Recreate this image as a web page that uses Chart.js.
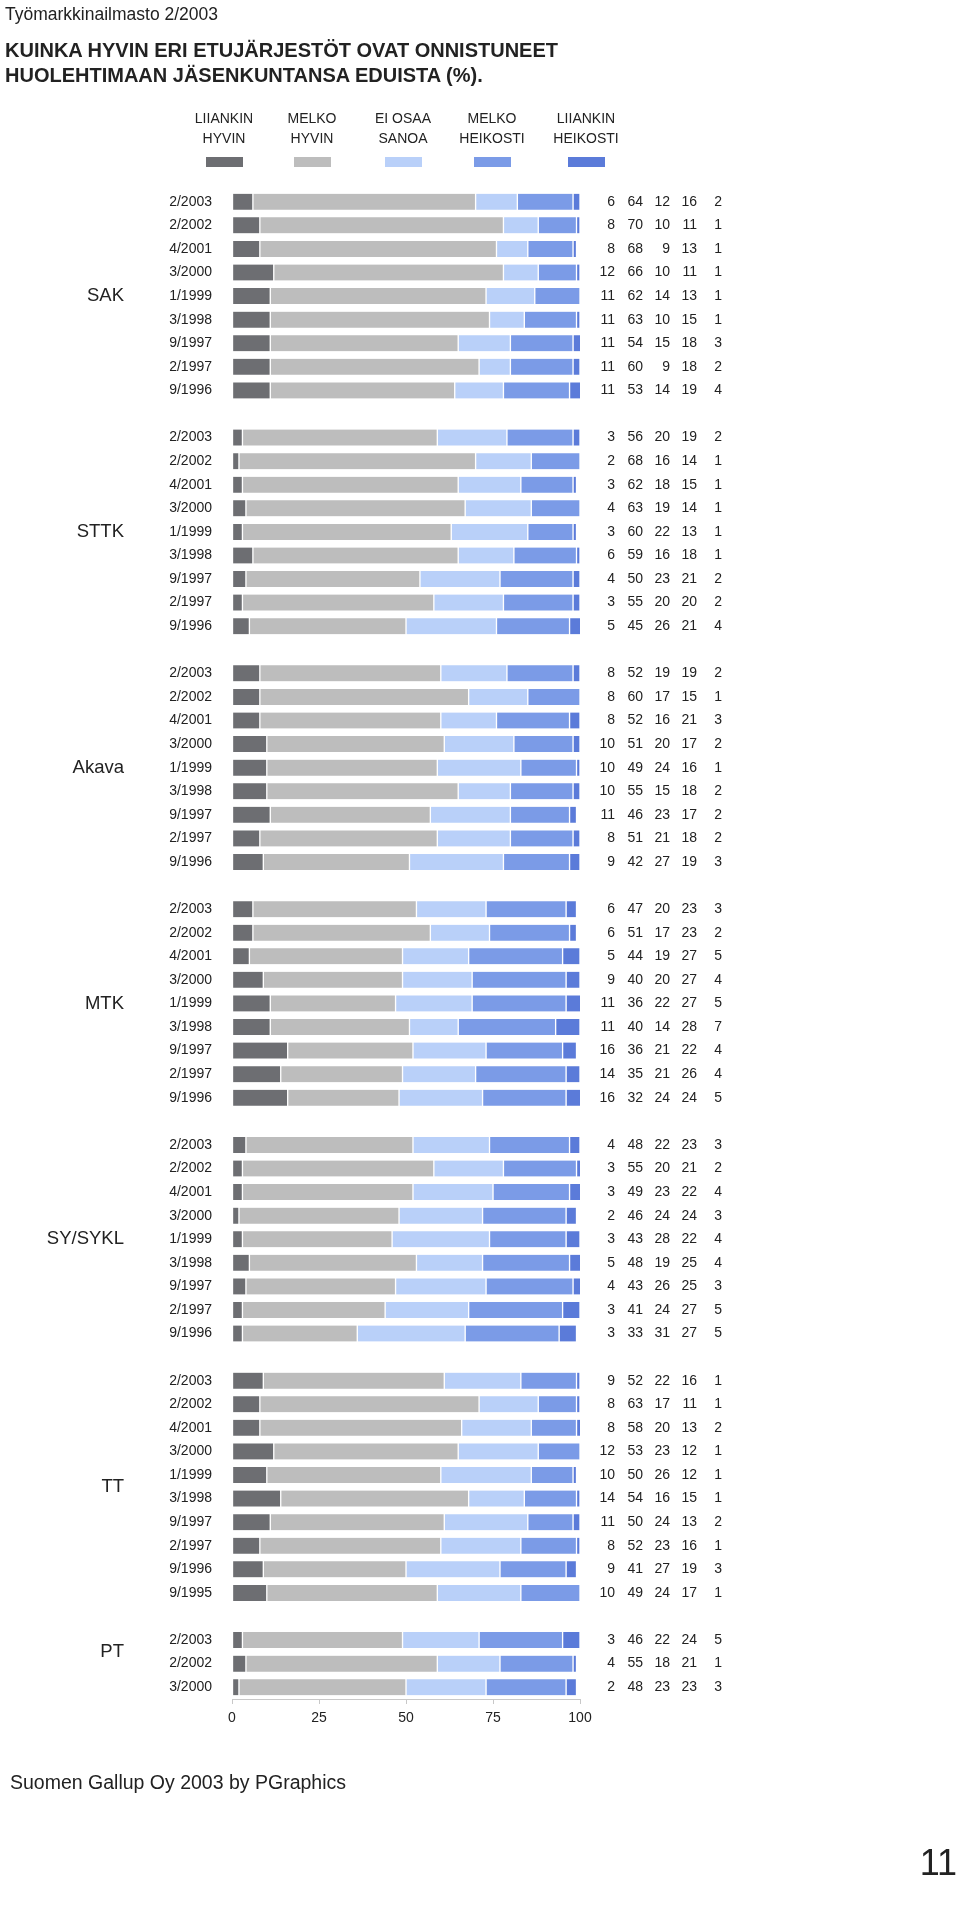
<!DOCTYPE html>
<html>
<head>
<meta charset="utf-8">
<title>Työmarkkinailmasto 2/2003</title>
<script src="https://cdn.jsdelivr.net/npm/chart.js@4.4.1/dist/chart.umd.min.js"></script>
<style>
  html, body { margin: 0; padding: 0; background: #fff; }
  body {
    width: 960px; height: 1909px; position: relative; overflow: hidden;
    font-family: 'Liberation Sans', Arial, sans-serif; color: #222;
  }
  #chart { position: absolute; left: 0; top: 0; }
  .txt { position: absolute; white-space: nowrap; line-height: 1; }
  .leg { position: absolute; width: 110px; text-align: center; font-size: 14px; line-height: 20px; }
  .sw { position: absolute; width: 37px; height: 10px; }
</style>
</head>
<body>
<canvas id="chart" width="960" height="1909"></canvas>
<div class="txt" style="left:5px; top:6px; font-size:17.5px;">Työmarkkinailmasto 2/2003</div>
<div class="txt" style="left:5px; top:38px; font-size:20px; font-weight:bold; line-height:25px;">KUINKA HYVIN ERI ETUJÄRJESTÖT OVAT ONNISTUNEET<br>HUOLEHTIMAAN JÄSENKUNTANSA EDUISTA (%).</div>
<div id="legend"></div>
<div class="txt" style="left:10px; top:1773px; font-size:19.5px;">Suomen Gallup Oy 2003 by PGraphics</div>
<div class="txt" style="right:3px; top:1845px; font-size:36px;">11</div>
<script>
// organisations and survey dates
const groupNames = ['SAK', 'STTK', 'Akava', 'MTK', 'SY/SYKL', 'TT', 'PT'];
const dates9 = ['2/2003', '2/2002', '4/2001', '3/2000', '1/1999', '3/1998', '9/1997', '2/1997', '9/1996'];
const groupDates = [
  dates9, dates9, dates9, dates9, dates9,
  ['2/2003', '2/2002', '4/2001', '3/2000', '1/1999', '3/1998', '9/1997', '2/1997', '9/1996', '9/1995'],
  ['2/2003', '2/2002', '3/2000']
];

// answers (%), one inner array per organisation
const liiankinHyvin = [
  [6, 8, 8, 12, 11, 11, 11, 11, 11],
  [3, 2, 3, 4, 3, 6, 4, 3, 5],
  [8, 8, 8, 10, 10, 10, 11, 8, 9],
  [6, 6, 5, 9, 11, 11, 16, 14, 16],
  [4, 3, 3, 2, 3, 5, 4, 3, 3],
  [9, 8, 8, 12, 10, 14, 11, 8, 9, 10],
  [3, 4, 2]
];
const melkoHyvin = [
  [64, 70, 68, 66, 62, 63, 54, 60, 53],
  [56, 68, 62, 63, 60, 59, 50, 55, 45],
  [52, 60, 52, 51, 49, 55, 46, 51, 42],
  [47, 51, 44, 40, 36, 40, 36, 35, 32],
  [48, 55, 49, 46, 43, 48, 43, 41, 33],
  [52, 63, 58, 53, 50, 54, 50, 52, 41, 49],
  [46, 55, 48]
];
const eiOsaaSanoa = [
  [12, 10, 9, 10, 14, 10, 15, 9, 14],
  [20, 16, 18, 19, 22, 16, 23, 20, 26],
  [19, 17, 16, 20, 24, 15, 23, 21, 27],
  [20, 17, 19, 20, 22, 14, 21, 21, 24],
  [22, 20, 23, 24, 28, 19, 26, 24, 31],
  [22, 17, 20, 23, 26, 16, 24, 23, 27, 24],
  [22, 18, 23]
];
const melkoHeikosti = [
  [16, 11, 13, 11, 13, 15, 18, 18, 19],
  [19, 14, 15, 14, 13, 18, 21, 20, 21],
  [19, 15, 21, 17, 16, 18, 17, 18, 19],
  [23, 23, 27, 27, 27, 28, 22, 26, 24],
  [23, 21, 22, 24, 22, 25, 25, 27, 27],
  [16, 11, 13, 12, 12, 15, 13, 16, 19, 17],
  [24, 21, 23]
];
const liiankinHeikosti = [
  [2, 1, 1, 1, 1, 1, 3, 2, 4],
  [2, 1, 1, 1, 1, 1, 2, 2, 4],
  [2, 1, 3, 2, 1, 2, 2, 2, 3],
  [3, 2, 5, 4, 5, 7, 4, 4, 5],
  [3, 2, 4, 3, 4, 4, 3, 5, 5],
  [1, 1, 2, 1, 1, 1, 2, 1, 3, 1],
  [5, 1, 3]
];

const seriesNames = [['LIIANKIN', 'HYVIN'], ['MELKO', 'HYVIN'], ['EI OSAA', 'SANOA'], ['MELKO', 'HEIKOSTI'], ['LIIANKIN', 'HEIKOSTI']];
const seriesValues = [liiankinHyvin, melkoHyvin, eiOsaaSanoa, melkoHeikosti, liiankinHeikosti];
const xTicks = [0, 25, 50, 75, 100];

// look
const seriesColors = ['#6d6e72', '#bdbdbd', '#b9d0f9', '#7b9be7', '#5b7bd9'];
const legendX = [224, 312, 403, 492, 586];
const numberColsRight = [615, 643, 670, 697, 722];
const FONT = "'Liberation Sans', Arial, sans-serif";
const TEXT = '#222';

// legend
const legendEl = document.getElementById('legend');
seriesNames.forEach((n, i) => {
  const t = document.createElement('div');
  t.className = 'leg';
  t.style.left = (legendX[i] - 55) + 'px';
  t.style.top = '108px';
  t.innerHTML = n.join('<br>');
  legendEl.appendChild(t);
  const s = document.createElement('div');
  s.className = 'sw';
  s.style.left = (legendX[i] - 18.5) + 'px';
  s.style.top = '157px';
  s.style.background = seriesColors[i];
  legendEl.appendChild(s);
});

// one category axis, blank row between organisations
const rowLabels = [];
const groupRows = [];
const flat = seriesValues.map(() => []);
groupNames.forEach((g, gi) => {
  if (gi > 0) {
    rowLabels.push('');
    flat.forEach(a => a.push(null));
  }
  groupRows.push({ name: g, start: rowLabels.length, count: groupDates[gi].length });
  groupDates[gi].forEach((d, di) => {
    rowLabels.push(d);
    seriesValues.forEach((s, si) => flat[si].push(s[gi][di]));
  });
});

const sidePlugin = {
  id: 'side',
  afterDatasetsDraw(chart) {
    const ctx = chart.ctx;
    const y = chart.scales.y;
    ctx.save();
    ctx.fillStyle = TEXT;
    ctx.textAlign = 'right';
    ctx.textBaseline = 'middle';

    // value table on the right
    ctx.font = '14px ' + FONT;
    chart.data.datasets.forEach((ds, si) => {
      ds.data.forEach((v, i) => {
        if (v === null) return;
        ctx.fillText(String(v), numberColsRight[si], y.getPixelForValue(i));
      });
    });

    // organisation names
    ctx.font = '18.5px ' + FONT;
    groupRows.forEach(g => {
      const mid = g.start + (g.count >= 9 ? (g.count - 1) / 2 : (g.count - 2) / 2);
      ctx.fillText(g.name, 124, y.getPixelForValue(mid));
    });
    ctx.restore();
  }
};

Chart.defaults.font.family = FONT;
Chart.defaults.color = TEXT;

new Chart(document.getElementById('chart').getContext('2d'), {
  type: 'bar',
  data: {
    labels: rowLabels,
    datasets: seriesNames.map((n, i) => ({
      label: n.join(' '),
      data: flat[i],
      backgroundColor: seriesColors[i],
      borderColor: '#fff',
      borderWidth: { left: 1, right: 1, top: 0, bottom: 0 },
      borderSkipped: false,
      barThickness: 16
    }))
  },
  options: {
    indexAxis: 'y',
    responsive: false,
    animation: false,
    layout: { padding: { top: 190, left: 0, right: 380, bottom: 170 } },
    plugins: {
      legend: { display: false },
      tooltip: { enabled: false }
    },
    scales: {
      x: {
        stacked: true,
        min: xTicks[0],
        max: xTicks[xTicks.length - 1],
        afterBuildTicks(s) { s.ticks = xTicks.map(v => ({ value: v })); },
        ticks: { padding: 6, color: TEXT, font: { size: 14 } },
        grid: { drawOnChartArea: false, drawTicks: true, tickLength: 5, color: '#c8c8c8' },
        border: { color: '#c8c8c8' },
        afterFit(s) { s.height = 40; }
      },
      y: {
        stacked: true,
        ticks: { autoSkip: false, padding: 20, color: TEXT, font: { size: 14 } },
        grid: { display: false, drawTicks: false },
        border: { display: false },
        afterFit(s) { s.width = 232; }
      }
    }
  },
  plugins: [sidePlugin]
});
</script>
</body>
</html>
